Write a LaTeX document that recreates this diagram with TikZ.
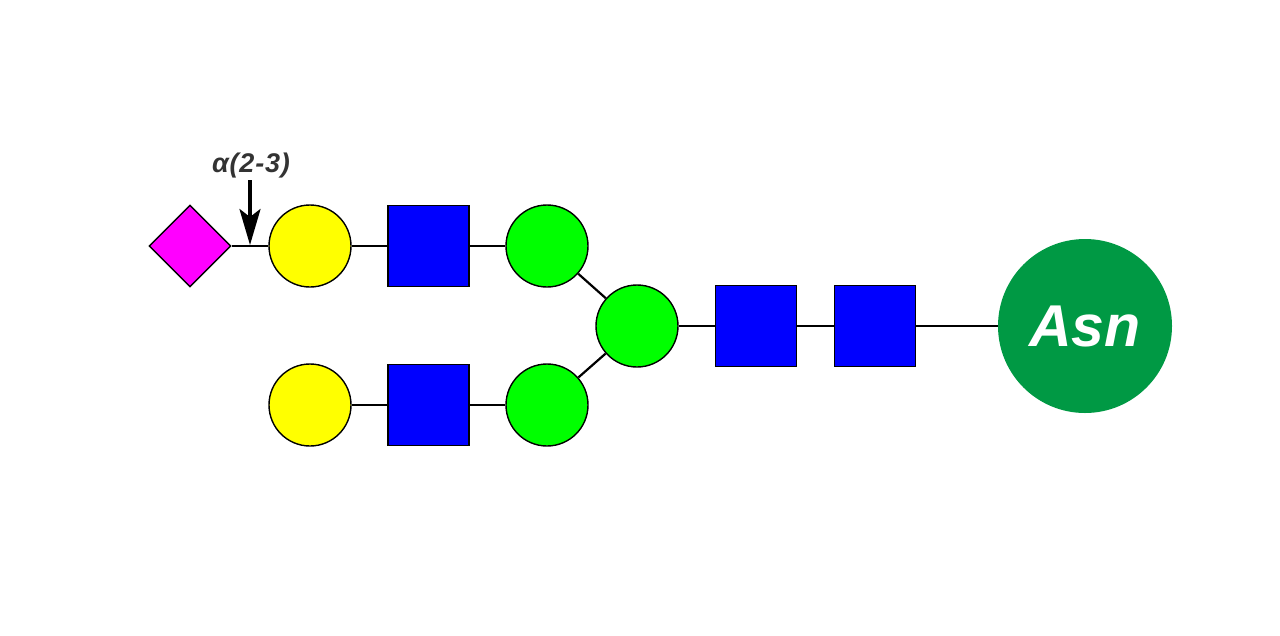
\documentclass[tikz,border=0pt]{standalone}
\usepackage{fontspec}
\setmainfont{Liberation Sans}
\usetikzlibrary{shapes.geometric,arrows.meta}
\definecolor{neuac}{RGB}{255,0,255}
\definecolor{galc}{RGB}{255,255,0}
\definecolor{glcnac}{RGB}{0,0,255}
\definecolor{manc}{RGB}{0,255,0}
\definecolor{asnc}{RGB}{0,153,68}
\definecolor{labc}{RGB}{51,51,51}
\begin{document}
\begin{tikzpicture}[x=1pt,y=-1pt,
  sugar/.style={draw=black,line width=1.4pt,inner sep=0pt},
  circ/.style={sugar,circle,minimum size=82pt},
  sq/.style={sugar,rectangle,minimum size=81pt,fill=glcnac},
  dia/.style={sugar,diamond,aspect=1,minimum width=82pt,minimum height=82pt,fill=neuac},
  link/.style={line width=2.2pt,black}]
\useasboundingbox (0,0) rectangle (1280,635);
% nodes
\node[dia] (sia) at (190,246) {};
\node[circ,fill=galc] (gal1) at (310,246) {};
\node[sq] (gn1) at (428.5,246) {};
\node[circ,fill=manc] (man1) at (547,246) {};
\node[circ,fill=galc] (gal2) at (310,405) {};
\node[sq] (gn2) at (428.5,405) {};
\node[circ,fill=manc] (man2) at (547,405) {};
\node[circ,fill=manc] (manc) at (637,326) {};
\node[sq] (gn3) at (756,326) {};
\node[sq] (gn4) at (875,326) {};
\node[circle,fill=asnc,minimum size=174pt,inner sep=0pt,text=white,font=\bfseries\itshape\fontsize{59}{60}\selectfont] (asn) at (1085,326) {Asn};
% links
\draw[link] (sia.east) -- (gal1);
\draw[link] (gal1) -- (gn1);
\draw[link] (gn1) -- (man1);
\draw[link] (man1) -- (manc);
\draw[link] (gal2) -- (gn2);
\draw[link] (gn2) -- (man2);
\draw[link] (man2) -- (manc);
\draw[link] (manc) -- (gn3);
\draw[link] (gn3) -- (gn4);
\draw[link] (gn4) -- (asn);
% linkage label
\coordinate (tip) at (250,245);
\coordinate (tail) at (250,180);
\node[text=labc,font=\bfseries\itshape\fontsize{27}{29}\selectfont\addfontfeature{LetterSpace=3},inner sep=0pt] (lab) at (251,166) {α(2-3)};
\draw[line width=3.5pt,-{Stealth[length=36pt,width=21pt,inset=8pt]}] (tail) -- (tip);
\end{tikzpicture}
\end{document}
